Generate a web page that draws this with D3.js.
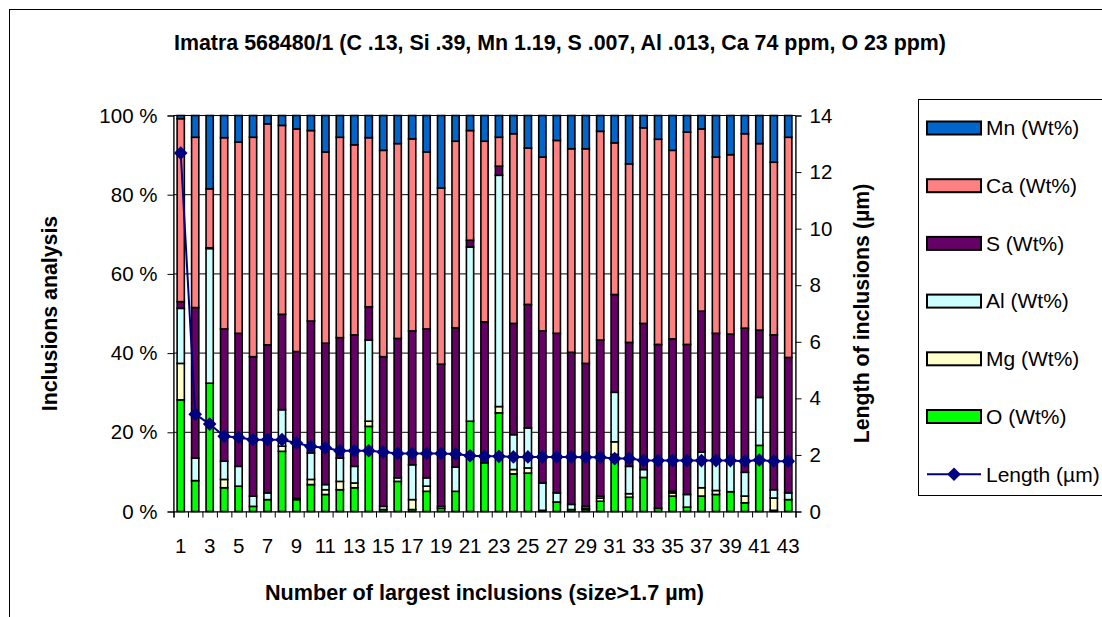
<!DOCTYPE html>
<html>
<head>
<meta charset="utf-8">
<script src="https://cdn.jsdelivr.net/npm/d3@7"></script>
<style>
  html, body { margin: 0; padding: 0; background: #fff; }
  svg { display: block; font-family: "Liberation Sans", Arial, sans-serif; }
</style>
</head>
<body>
<svg id="chart" width="1102" height="617"></svg>
<script>
// Inclusion number (largest first)
const categories = [1, 2, 3, 4, 5, 6, 7, 8, 9, 10, 11, 12, 13, 14, 15, 16, 17, 18, 19, 20, 21, 22,
                    23, 24, 25, 26, 27, 28, 29, 30, 31, 32, 33, 34, 35, 36, 37, 38, 39, 40, 41, 42, 43];

// Composition of each inclusion, Wt%
const oxygen    = [28.2, 7.8, 32.4, 6.0, 6.4, 1.3, 3.0, 15.2, 3.0, 6.8, 4.3, 5.5, 6.0, 21.5, 0.5, 7.6, 0.5, 5.1, 0.8, 5.1, 22.8, 12.3,
                   24.9, 9.5, 9.7, 0.3, 2.4, 0.5, 0.5, 2.6, 14.4, 3.6, 8.6, 0.8, 3.9, 1.1, 3.9, 4.3, 5.0, 2.2, 16.7, 0.3, 3.0];
const magnesium = [9.2, 0, 0, 2.1, 0, 0, 0, 1.3, 0, 1.3, 1.2, 2.1, 1.2, 1.3, 0, 0, 2.5, 1.3, 0, 0, 0, 0,
                   1.6, 1.1, 1.3, 0, 0, 0, 0.3, 0.8, 3.2, 0.9, 0, 0, 0.8, 0, 2.1, 1.0, 0, 1.7, 0, 3.1, 0];
const aluminium = [13.9, 5.7, 34.0, 4.6, 5.0, 2.6, 1.7, 9.2, 0.3, 6.7, 1.3, 5.9, 4.2, 20.5, 0.8, 0.9, 8.8, 2.1, 0.5, 6.1, 44.0, 0,
                   58.4, 8.8, 10.1, 6.9, 2.3, 1.3, 0.5, 0.5, 12.5, 6.9, 2.0, 0, 0.4, 3.2, 9.0, 8.1, 8.5, 6.0, 12.1, 2.1, 1.7];
const sulphur   = [1.7, 38.0, 0.2, 33.4, 33.6, 35.2, 37.4, 24.1, 37.1, 33.3, 35.7, 30.4, 33.2, 8.4, 37.8, 35.2, 33.8, 37.6, 35.9, 35.2, 1.7, 35.6,
                   2.3, 28.1, 31.2, 38.4, 40.3, 38.4, 36.1, 39.4, 24.7, 31.3, 36.9, 41.4, 38.5, 37.9, 35.6, 31.6, 31.3, 36.4, 17.0, 39.1, 34.2];
const calcium   = [46.2, 43.0, 14.9, 48.3, 48.3, 55.4, 55.8, 47.7, 56.2, 48.1, 48.3, 50.6, 48.0, 42.7, 52.1, 49.2, 48.5, 44.7, 44.5, 47.1, 27.7, 45.6,
                   7.3, 47.9, 39.5, 43.9, 48.7, 51.4, 54.2, 52.7, 38.3, 45.1, 49.4, 51.8, 47.6, 53.6, 46.0, 44.5, 45.3, 49.1, 47.1, 43.6, 55.6];
const manganese = [0.8, 5.5, 18.5, 5.6, 6.7, 5.5, 2.1, 2.5, 3.4, 3.8, 9.2, 5.5, 7.4, 5.6, 8.8, 7.1, 5.9, 9.2, 18.3, 6.5, 3.8, 6.5,
                   5.5, 4.6, 8.2, 10.5, 6.3, 8.4, 8.4, 4.0, 6.9, 12.2, 3.1, 6.0, 8.8, 4.2, 3.4, 10.5, 9.9, 4.6, 7.1, 11.8, 5.5];

// Length of each inclusion, µm
const lengthUm  = [12.67, 3.44, 3.09, 2.66, 2.62, 2.54, 2.54, 2.54, 2.42, 2.30, 2.25, 2.15, 2.15, 2.15, 2.10, 2.05, 2.05, 2.05, 2.05, 2.03, 1.97, 1.95,
                   1.95, 1.93, 1.93, 1.93, 1.93, 1.93, 1.92, 1.92, 1.87, 1.87, 1.80, 1.80, 1.80, 1.80, 1.80, 1.80, 1.80, 1.78, 1.82, 1.78, 1.78];

const percentTicks = [0, 0.2, 0.4, 0.6, 0.8, 1];
const lengthTicks  = [0, 2, 4, 6, 8, 10, 12, 14];
const categoryLabels = [1, 3, 5, 7, 9, 11, 13, 15, 17, 19, 21, 23, 25, 27, 29, 31, 33, 35, 37, 39, 41, 43];

const seriesKeys   = ["O", "Mg", "Al", "S", "Ca", "Mn"];
const seriesNames  = ["O (Wt%)", "Mg (Wt%)", "Al (Wt%)", "S (Wt%)", "Ca (Wt%)", "Mn (Wt%)"];
const seriesColors = ["#00FF00", "#FFFFCC", "#CCFFFF", "#660066", "#FF8080", "#0066CC"];
const lineColor = "#000080";

const titleText = "Imatra 568480/1 (C .13, Si .39, Mn 1.19, S .007, Al .013, Ca 74 ppm, O 23 ppm)";

// ---- layout ----
const plot = { left: 173.5, right: 795.5, top: 115.5, bottom: 511.5 };
const svg = d3.select("#chart");

const rows = categories.map((c, i) => ({
  cat: c, O: oxygen[i], Mg: magnesium[i], Al: aluminium[i], S: sulphur[i], Ca: calcium[i], Mn: manganese[i]
}));
const stacked = d3.stack().keys(seriesKeys).offset(d3.stackOffsetExpand)(rows);

const x = d3.scaleBand().domain(categories).range([plot.left, plot.right])
  .paddingInner(0.5).paddingOuter(0.25);
const xEdge = d3.scaleLinear().domain([0, categories.length]).range([plot.left, plot.right]);
const yPct = d3.scaleLinear().domain([0, 1]).range([plot.bottom, plot.top]);
const yLen = d3.scaleLinear().domain([0, 14]).range([plot.bottom, plot.top]);

// outer chart border
svg.append("rect").attr("x", 9.5).attr("y", 9.5).attr("width", 1200).attr("height", 700)
  .attr("fill", "none").attr("stroke", "#000").attr("stroke-width", 1);

// title
svg.append("text").attr("x", 560).attr("y", 50).attr("text-anchor", "middle")
  .attr("font-size", 21.4).attr("font-weight", "bold").text(titleText);

// plot area frame and gridlines
svg.append("rect").attr("x", plot.left).attr("y", plot.top)
  .attr("width", plot.right - plot.left).attr("height", plot.bottom - plot.top)
  .attr("fill", "#fff").attr("stroke", "#808080").attr("stroke-width", 1);
svg.append("g").selectAll("line").data(percentTicks.filter(d => d > 0)).join("line")
  .attr("x1", plot.left).attr("x2", plot.right)
  .attr("y1", d => yPct(d)).attr("y2", d => yPct(d))
  .attr("stroke", "#000").attr("stroke-width", 1);

// stacked bars
svg.append("g").selectAll("g").data(stacked).join("g")
  .attr("fill", (d, i) => seriesColors[i])
  .selectAll("rect").data(d => d).join("rect")
  .attr("x", d => x(d.data.cat))
  .attr("width", x.bandwidth())
  .attr("y", d => yPct(d[1]))
  .attr("height", d => Math.max(0, yPct(d[0]) - yPct(d[1])))
  .attr("stroke", "#000").attr("stroke-width", 1.6);

// axes
const fontSize = 20.5;
const leftAxis = svg.append("g").attr("transform", `translate(${plot.left},0)`)
  .call(d3.axisLeft(yPct).tickValues(percentTicks).tickFormat(d => Math.round(d * 100) + " %")
    .tickSize(6).tickPadding(10));
const rightAxis = svg.append("g").attr("transform", `translate(${plot.right},0)`)
  .call(d3.axisRight(yLen).tickValues(lengthTicks).tickSize(6).tickPadding(8));
const bottomTicks = svg.append("g").attr("transform", `translate(0,${plot.bottom})`)
  .call(d3.axisBottom(xEdge).tickValues(d3.range(0, categories.length + 1)).tickFormat("").tickSize(6));
const bottomLabels = svg.append("g").attr("transform", `translate(0,${plot.bottom})`)
  .call(d3.axisBottom(x).tickValues(categoryLabels).tickSize(0).tickPadding(41.5));
bottomLabels.select(".domain").remove();
bottomLabels.selectAll("text").attr("dy", 0);

[leftAxis, rightAxis, bottomTicks, bottomLabels].forEach(g => {
  g.selectAll("text").attr("font-size", fontSize).attr("fill", "#000")
    .attr("font-family", "'Liberation Sans', Arial, sans-serif");
  g.selectAll("line").attr("stroke", "#000");
  g.selectAll(".domain").attr("stroke", "#000").attr("stroke-width", 1.2);
});

// axis titles
svg.append("text").attr("transform", `translate(50,${(plot.top + plot.bottom) / 2}) rotate(-90)`)
  .attr("text-anchor", "middle").attr("dy", "0.35em")
  .attr("font-size", 21.3).attr("font-weight", "bold").text("Inclusions analysis");
svg.append("text").attr("transform", `translate(862,${(plot.top + plot.bottom) / 2}) rotate(-90)`)
  .attr("text-anchor", "middle").attr("dy", "0.35em")
  .attr("font-size", 21.3).attr("font-weight", "bold").text("Length of inclusions (µm)");
svg.append("text").attr("x", (plot.left + plot.right) / 2).attr("y", 600)
  .attr("text-anchor", "middle")
  .attr("font-size", 21.6).attr("font-weight", "bold").text("Number of largest inclusions (size>1.7 µm)");

// length line with diamond markers
const diamond = r => `M0,${-r}L${r},0L0,${r}L${-r},0Z`;
const cx = c => x(c) + x.bandwidth() / 2;
svg.append("path").datum(categories)
  .attr("fill", "none").attr("stroke", lineColor).attr("stroke-width", 2)
  .attr("d", d3.line().x(c => cx(c)).y((c, i) => yLen(lengthUm[i])));
svg.append("g").selectAll("path").data(categories).join("path")
  .attr("transform", (c, i) => `translate(${cx(c)},${yLen(lengthUm[i])})`)
  .attr("d", diamond(6.8)).attr("fill", lineColor);

// legend
const legend = svg.append("g");
legend.append("rect").attr("x", 918.5).attr("y", 99.5).attr("width", 300).attr("height", 396)
  .attr("fill", "#fff").attr("stroke", "#000").attr("stroke-width", 1);
const legendItems = seriesNames.map((n, i) => ({ name: n, color: seriesColors[i] })).reverse();
const legY = i => 128 + i * 57.7;
legendItems.forEach((d, i) => {
  legend.append("rect").attr("x", 927).attr("y", legY(i) - 6.5).attr("width", 54).attr("height", 13)
    .attr("fill", d.color).attr("stroke", "#000").attr("stroke-width", 2);
  legend.append("text").attr("x", 986).attr("y", legY(i)).attr("dy", "0.35em")
    .attr("font-size", 21).text(d.name);
});
const li = legendItems.length;
legend.append("line").attr("x1", 927).attr("x2", 981).attr("y1", legY(li)).attr("y2", legY(li))
  .attr("stroke", lineColor).attr("stroke-width", 2);
legend.append("path").attr("transform", `translate(954,${legY(li)})`).attr("d", diamond(6.8)).attr("fill", lineColor);
legend.append("text").attr("x", 986).attr("y", legY(li)).attr("dy", "0.35em")
  .attr("font-size", 21).text("Length (µm)");
</script>
</body>
</html>
